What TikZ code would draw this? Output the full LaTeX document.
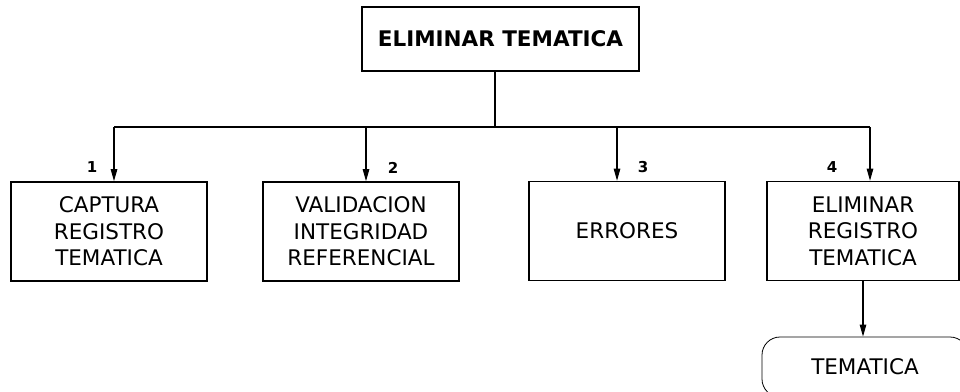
\documentclass[tikz,border=0pt]{standalone}
\usepackage{fontspec}
\setmainfont{DejaVu Sans}
\usetikzlibrary{arrows.meta}

\tikzset{
  caja/.style={draw,line width=1.6pt,inner sep=0pt,align=center,
    minimum width=196pt,minimum height=99pt,
    font=\fontsize{21.5}{26.5}\selectfont},
  num/.style={font=\fontsize{15}{17}\selectfont\bfseries,inner sep=0pt},
  flecha/.style={-{Triangle[length=12pt,width=6.5pt]},line width=1.1pt},
}

\begin{document}
\begin{tikzpicture}[x=1pt,y=-1pt,line width=1.1pt]
  \useasboundingbox (0,0) rectangle (960,391);

  % cajas
  \node[caja,minimum width=277pt,minimum height=64pt,font=\fontsize{21.5}{26.5}\selectfont\bfseries]
    (T) at (500.5,39) {ELIMINAR TEMATICA};
  \node[caja] (B1) at (109,231.5) {CAPTURA\\REGISTRO\\TEMATICA};
  \node[caja] (B2) at (361,231.5) {VALIDACION\\INTEGRIDAD\\REFERENCIAL};
  \node[caja] (B3) at (627,231) {ERRORES};
  \node[caja,minimum width=192pt] (B4) at (863,231) {ELIMINAR\\REGISTRO\\TEMATICA};
  \node[draw,line width=0.8pt,rounded corners=18pt,inner sep=0pt,
    minimum width=206pt,minimum height=60pt,
    font=\fontsize{21.5}{26.5}\selectfont] (D) at (865,367) {TEMATICA};

  % puntos del bus
  \coordinate (S) at (495,127);
  \coordinate (P1) at (114,127);
  \coordinate (P2) at (366,127);
  \coordinate (P3) at (617,127);
  \coordinate (P4) at (870,127);

  % lineas
  \draw (S |- T.south) -- (S);
  \draw (P1) -- (P4);
  \draw[flecha] (P1) -- (P1 |- B1.north);
  \draw[flecha] (P2) -- (P2 |- B2.north);
  \draw[flecha] (P3) -- (P3 |- B3.north);
  \draw[flecha] (P4) -- (P4 |- B4.north);
  \draw[flecha] (B4.south) -- (B4.south |- D.north);

  % numeros
  \node[num] (N1) at (92,167.5) {1};
  \node[num] (N2) at (393,167.5) {2};
  \node[num] (N3) at (643,167.5) {3};
  \node[num] (N4) at (832,167.5) {4};
\end{tikzpicture}
\end{document}
